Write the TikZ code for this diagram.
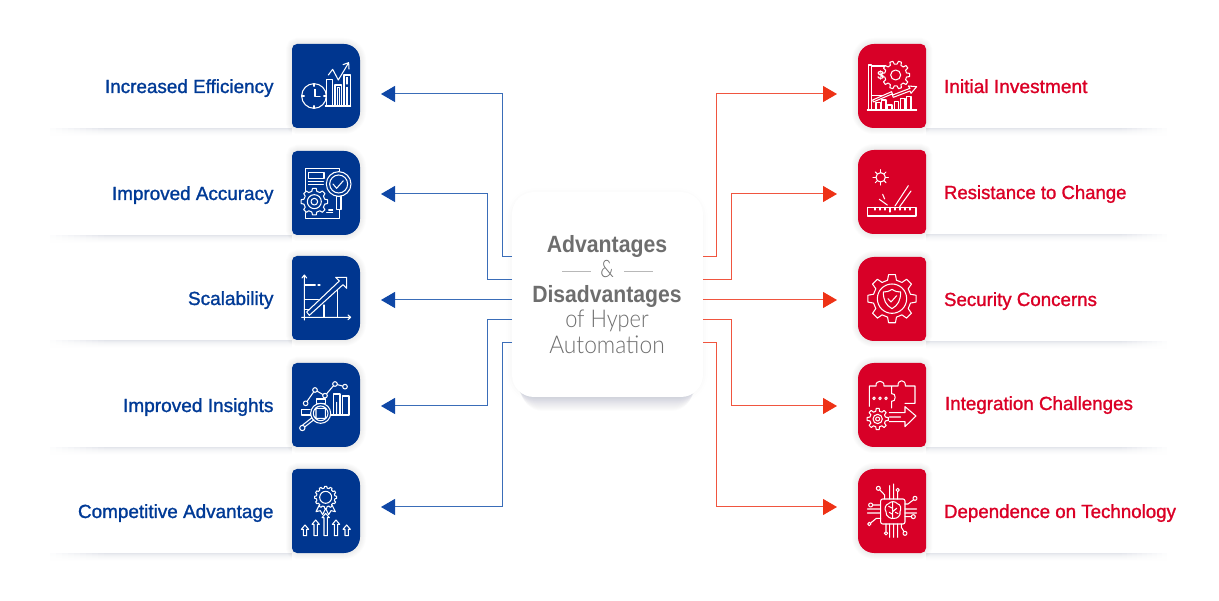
\documentclass[tikz,border=0pt]{standalone}
\usepackage{fontspec}
\setmainfont{Liberation Sans}
\newfontfamily\medf[FakeBold=1.3]{Liberation Sans}
\newfontfamily\boldf{Liberation Sans Bold}
\newfontfamily\lightf{Lato Light}
\usetikzlibrary{arrows.meta,calc}
\definecolor{bbox}{HTML}{00368F}
\definecolor{rbox}{HTML}{D80027}
\definecolor{btxt}{HTML}{003A96}
\definecolor{rtxt}{HTML}{DB0026}
\definecolor{bline}{HTML}{3A6DB8}
\definecolor{rline}{HTML}{F0553F}
\definecolor{btip}{HTML}{0F47A6}
\definecolor{rtip}{HTML}{EE3216}
\definecolor{gtxt}{HTML}{6E6E6E}
\definecolor{sh}{HTML}{E3E5EB}
\definecolor{csh}{HTML}{707890}
\newcommand\fitw[2]{\setbox0\hbox{#2}\pgfmathsetmacro\fitr{#1/\the\wd0}\scalebox{\fitr}[1]{\box0}}
\newcommand\lpath[1]{(#1.west) [rounded corners=5pt] -- (#1.north west) [rounded corners=16pt] -- (#1.north east) -- (#1.south east) [rounded corners=5pt] -- (#1.south west) -- cycle}
\newcommand\rpath[1]{(#1.west) [rounded corners=16pt] -- (#1.north west) [rounded corners=5pt] -- (#1.north east) -- (#1.south east) [rounded corners=16pt] -- (#1.south west) -- cycle}
\newcommand\softsh[1]{\foreach \w in {2,4,...,12}{\draw[draw=gray,opacity=.02,line width=\w pt] #1;}}
\newcommand\rowbase[3]{\foreach \k/\p in {0/100,1/75,2/55,3/40,4/28,5/18,6/10,7/5}{
    \fill[sh!\p!white] (#1,#3+\k) rectangle (#2,#3+\k+1);}}
\newcommand\rowL[3]{\rowbase{#1}{#2}{#3}
  \foreach \i in {0,...,9}{\fill[white,opacity=1-\i/10] (#1+6*\i,#3) rectangle (#1+6*\i+6,#3+8);}}
\newcommand\rowR[3]{\rowbase{#1}{#2}{#3}
  \foreach \i in {0,...,9}{\fill[white,opacity=1-\i/10] (#2-5*\i,#3) rectangle (#2-5*\i-5,#3+8);}}
\newcommand\gearic[5]{\pgfmathsetmacro\st{360/#3}
  \draw[icn,fill=ic,shift={(#1,#2)}] ({-.30*\st}:#5) \foreach \k [evaluate=\k as \a using (\k-1)*\st] in {1,...,#3}{
     -- ({\a-.30*\st}:#5) -- ({\a-.18*\st}:#4) -- ({\a+.18*\st}:#4) -- ({\a+.30*\st}:#5)} -- cycle;}
\newcommand\uparr[3]{\draw[icn] (#1-5,#3) -- (#1-5,#2+13) -- (#1-11,#2+13) -- (#1,#2) -- (#1+11,#2+13) -- (#1+5,#2+13) -- (#1+5,#3) -- cycle;}
\tikzset{
  x=1pt,y=-1pt,
  boxn/.style={minimum width=68pt,minimum height=84pt,inner sep=0pt,outer sep=0pt},
  lab/.style={inner sep=0pt,outer sep=0pt,font=\medf\fontsize{19}{19}\selectfont},
  llab/.style={lab,anchor=base east,text=btxt},
  rlab/.style={lab,anchor=base west,text=rtxt},
  clab/.style={inner sep=0pt,outer sep=0pt,anchor=base,text=gtxt},
  bl/.style={draw=bline,line width=1pt,-{Triangle[length=14pt,width=16pt,color=btip]}},
  rl/.style={draw=rline,line width=1pt,-{Triangle[length=14pt,width=16pt,color=rtip]}},
  icn/.style={draw=white,line width=1.05pt,line join=round,line cap=round},
  icons/.style={x=.3333pt,y=-.3333pt},
}
\begin{document}
\begin{tikzpicture}
\useasboundingbox (0,0) rectangle (1219,601);
\fill[white] (0,0) rectangle (1219,601);
% row shadows
\rowL{44}{292}{128}\rowL{44}{292}{235}\rowL{44}{292}{340}\rowL{44}{292}{447}\rowL{44}{292}{553}
\rowR{926}{1172}{128}\rowR{926}{1172}{234}\rowR{926}{1172}{341}\rowR{926}{1172}{447}\rowR{926}{1172}{553}
% nodes for icon boxes
\node[boxn] (iA) at (326,86) {};
\node[boxn] (iB) at (326,193) {};
\node[boxn] (iC) at (326,298) {};
\node[boxn] (iD) at (326,405) {};
\node[boxn] (iE) at (326,511) {};
\node[boxn] (jA) at (892,86) {};
\node[boxn] (jB) at (892,192) {};
\node[boxn] (jC) at (892,299) {};
\node[boxn] (jD) at (892,405) {};
\node[boxn] (jE) at (892,511) {};
\foreach \n in {iA,iB,iC,iD,iE}{\softsh{\lpath{\n}}\fill[bbox] \lpath{\n};}
\foreach \n in {jA,jB,jC,jD,jE}{\softsh{\rpath{\n}}\fill[rbox] \rpath{\n};}
% arrow ends and heights
\coordinate (ta) at (381,94); \coordinate (tb) at (381,194); \coordinate (tc) at (381,300); \coordinate (td) at (381,406); \coordinate (te) at (381,507);
\coordinate (ua) at (837,94); \coordinate (ub) at (837,194); \coordinate (uc) at (837,300); \coordinate (ud) at (837,406); \coordinate (ue) at (837,507);
\coordinate (ya) at (0,257); \coordinate (yb) at (0,280); \coordinate (yc) at (0,300); \coordinate (yd) at (0,320); \coordinate (ye) at (0,343);
% centre card
\begin{scope}
\foreach \w/\o in {16/.005,12/.006,8/.007,4/.009}{
  \draw[draw=black!70,opacity=\o,line width=\w pt,rounded corners=22pt] (514,196) rectangle (700,395);}
\foreach \d in {1,...,14}{
  \fill[fill=csh,opacity=.018,rounded corners=22pt] (514+\d/2,230) rectangle (700-\d/2,397+\d);}
\end{scope}
\node[minimum width=191pt,minimum height=205pt,inner sep=0pt,outer sep=0pt,rounded corners=22pt,fill=white] (core) at (607.5,294.5) {};
\draw[bl] (core.west |- ya) -- ++(-10,0) |- (ta);
\draw[bl] (core.west |- yb) -- ++(-25,0) |- (tb);
\draw[bl] (core.west |- yc) -- (tc);
\draw[bl] (core.west |- yd) -- ++(-25,0) |- (td);
\draw[bl] (core.west |- ye) -- ++(-10,0) |- (te);
\draw[rl] (core.east |- ya) -- ++(13,0) |- (ua);
\draw[rl] (core.east |- yb) -- ++(28,0) |- (ub);
\draw[rl] (core.east |- yc) -- (uc);
\draw[rl] (core.east |- yd) -- ++(28,0) |- (ud);
\draw[rl] (core.east |- ye) -- ++(13,0) |- (ue);
% centre text
\node[clab,font=\boldf\fontsize{23.5}{24}\selectfont] (t1) at (607,252.7) {\fitw{120.5}{Advantages}};
\node[clab,font=\lightf\fontsize{24}{24}\selectfont] (t2) at (607,277.7) {\fitw{13.5}{\&}};
\node[clab,font=\boldf\fontsize{23.5}{24}\selectfont] (t3) at (607,302.3) {\fitw{149.5}{Disadvantages}};
\node[clab,font=\lightf\fontsize{24.5}{24}\selectfont] (t4) at (607,328) {\fitw{83.5}{of Hyper}};
\node[clab,font=\lightf\fontsize{24.5}{24}\selectfont] (t5) at (607,353.2) {\fitw{115.5}{Automation}};
\coordinate (da) at (562,271.7); \coordinate (db) at (590.7,271.7); \coordinate (dc) at (624,271.7); \coordinate (dd) at (653,271.7);
\draw[draw=black!28,line width=.8pt] (da) -- (db) (dc) -- (dd);
% labels
\node[llab] (la) at (273.5,93) {\fitw{168.5}{Increased Efficiency}};
\node[llab] (lb) at (273.5,200) {\fitw{161.5}{Improved Accuracy}};
\node[llab] (lc) at (273.5,305) {\fitw{85.5}{Scalability}};
\node[llab] (ld) at (273.5,412) {\fitw{150.5}{Improved Insights}};
\node[llab] (le) at (273.5,518) {\fitw{195.5}{Competitive Advantage}};
\node[rlab] (ra) at (944,93) {\fitw{143.5}{Initial Investment}};
\node[rlab] (rb) at (944,199) {\fitw{182.5}{Resistance to Change}};
\node[rlab] (rc) at (944,306) {\fitw{153}{Security Concerns}};
\node[rlab] (rd) at (945,410) {\fitw{188}{Integration Challenges}};
\node[rlab] (re) at (944,518) {\fitw{232}{Dependence on Technology}};
% ---- icons blue
\colorlet{ic}{bbox}
\begin{scope}[shift={(iA.north west)},icons]
\draw[icn] (104,186) -- (104,106) -- (122,106) -- (122,186) (129,186) -- (129,123) -- (149,123) -- (149,186) (156,186) -- (156,93) -- (176,93) -- (176,186) (100,186) -- (176,186);
\draw[icn] (136,186) -- (136,131) -- (142,131) -- (142,186) (165,100) -- (165,120) (165,130) -- (165,186);
\draw[icn,fill=ic] (66,156) circle (37);
\draw[icn] (69,136) -- (69,158) -- (84,158) (66,119) -- (66,127) (66,185) -- (66,193) (29,156) -- (37,156) (95,156) -- (103,156);
\draw[icn] (109,93) -- (122,76) -- (139,108) -- (169,58) (153,62) -- (170,56) -- (171,75);
\end{scope}
\begin{scope}[shift={(iB.north west)},icons]
\draw[icn] (41,130) -- (41,53) -- (142,53) -- (142,202) -- (41,202) -- (41,185);
\draw[icn] (49,64) rectangle (96,82) (49,92) -- (94,92) (49,100) -- (94,100) (104,185) -- (122,185) (110,177) -- (122,177);
\draw[icn,fill=ic] (133,135) rectangle (147,175);
\draw[icn,fill=ic] (140,99) circle (37);
\draw[icn] (140,99) circle (27) (123,99) -- (134,112) -- (154,89);
\gearic{67}{152}{8}{40}{32}
\draw[icn] (67,152) circle (21) (67,152) circle (10);
\end{scope}
\begin{scope}[shift={(iC.north west)},icons]
\draw[icn] (37,192) -- (37,57) (29,184) -- (176,184) (30,66) -- (37,57) -- (44,66) (168,177) -- (176,184) -- (168,191);
\draw[icn] (37,87) -- (70,87) (78,87) -- (84,87) (37,130) -- (79,130) (96,147) -- (96,184) (136,102) -- (136,184) (37,160) -- (50,160);
\draw[icn,fill=ic] (164,64) -- (164,97) -- (153,86) -- (52,178) -- (44,168) -- (142,75) -- (131,64) -- cycle;
\end{scope}
\begin{scope}[shift={(iD.north west)},icons]
\draw[icn] (124,156) -- (124,93) -- (144,93) -- (144,156) (151,156) -- (151,99) -- (171,99) -- (171,156) (29,156) -- (171,156) (29,156) -- (29,139) -- (54,139);
\draw[icn] (134,156) -- (134,118) (41,121) -- (69,81) -- (99,98) -- (129,63) -- (159,71);
\foreach \p in {(41,121),(69,81),(99,98),(129,63),(159,71)}{\draw[icn,fill=ic] \p circle (7);}
\draw[icn,fill=ic] (74,108) rectangle (100,122);
\draw[icn,fill=ic] (86,151) circle (30);
\draw[icn] (86,151) circle (22) (72,136) rectangle (100,166);
\draw[icn] (66,170) -- (38,192) (60,164) -- (32,186);
\draw[icn,fill=ic] (31,195) circle (8);
\end{scope}
\begin{scope}[shift={(iE.north west)},icons]
\draw[icn] (82,108) -- (72,128) -- (85,125) -- (92,137) -- (101,118) -- (110,137) -- (117,125) -- (130,128) -- (120,108);
\gearic{101}{85}{12}{33}{28}
\draw[icn] (101,85) circle (18);
\uparr{39}{168}{200}\uparr{71}{153}{200}\uparr{101}{133}{200}\uparr{132}{153}{200}\uparr{164}{168}{200}
\end{scope}
% ---- icons red
\colorlet{ic}{rbox}
\begin{scope}[shift={(jA.north west)},icons]
\draw[icn] (31,198) -- (31,63) -- (41,63) -- (41,198) (28,198) -- (176,198) (41,66) -- (80,66) (41,154) -- (72,154);
\gearic{113}{93}{10}{42}{33}
\draw[icn] (113,93) circle (15);
\node[inner sep=0pt,text=white,font=\boldf\fontsize{12}{12}\selectfont] (dollar) at (68,94) {\$};
\draw[icn,fill=ic] (44,168) -- (101,143) -- (104,153) -- (156,133) -- (151,126) -- (176,128) -- (159,148) -- (156,141) -- (106,160) -- (102,150) -- (46,174) -- cycle;
\foreach \a/\b in {54/176,71/168,89/183,109/173,128/163,146/158}{\draw[icn] (\a,198) -- (\a,\b) -- (\a+13,\b) -- (\a+13,198);}
\end{scope}
\begin{scope}[shift={(jB.north west)},icons]
\draw[icn] (68,82) circle (14);
\foreach \a in {0,45,...,315}{\draw[icn] (\a:14) ++(68,82) -- ++(\a:9);}
\draw[icn] (29,172) rectangle (174,198);
\foreach \a in {51,66,81,111,126,141,156}{\draw[icn] (\a,172) -- (\a,180);}
\draw[icn] (96,172) -- (96,186);
\draw[icn] (111,168) -- (151,107) (125,170) -- (159,123) (88,165) -- (64,148) (80,147) -- (74,133);
\end{scope}
\begin{scope}[shift={(jC.north west)},icons]
\gearic{102}{125}{8}{73}{57}
\draw[icn] (102,125) circle (44);
\draw[icn] (102,97) .. controls (112,104) and (120,105) .. (128,105) .. controls (128,130) and (120,145) .. (102,155) .. controls (84,145) and (76,130) .. (76,105) .. controls (84,105) and (92,104) .. (102,97) -- cycle;
\draw[icn] (90,125) -- (99,135) -- (116,116);
\end{scope}
\begin{scope}[shift={(jD.north west)},icons]
\draw[icn] (34,130) -- (34,69) -- (54,69) .. controls (52,50) and (80,50) .. (78,69) -- (101,69) -- (101,92) (101,115) -- (101,135) (101,69) -- (120,69) .. controls (118,48) and (144,48) .. (142,69) -- (171,69) -- (171,121) -- (141,121);
\draw[icn] (101,92) .. controls (115,88) and (115,118) .. (101,115);
\foreach \a in {48,66,84}{\draw[icn] (\a,106) circle (4);}
\draw[icn] (94,149) -- (141,149) -- (141,131) -- (174,159) -- (141,191) -- (141,176) -- (94,176) (94,162) -- (128,162);
\gearic{59}{168}{8}{32}{24}
\draw[icn] (59,168) circle (14) (59,168) circle (6);
\end{scope}
\begin{scope}[shift={(jE.north west)},icons]
\draw[icn,rounded corners=2pt] (68,90) rectangle (141,165);
\draw[icn] (80,90) -- (80,78) -- (65,62) (95,90) -- (95,50) (107,90) -- (107,45) (119,90) -- (119,68);
\draw[icn] (68,108) -- (44,108) (68,120) -- (28,120) (68,132) -- (28,132) (68,148) -- (55,148) -- (38,162);
\draw[icn] (141,105) -- (150,105) -- (167,92) (141,120) -- (176,120) (141,132) -- (176,132) (141,143) -- (160,143);
\draw[icn] (84,165) -- (84,187) (95,165) -- (95,205) (107,165) -- (107,205) (119,165) -- (119,205) (130,165) -- (130,175) -- (138,188);
\foreach \p/\r in {(61,58)/6,(119,63)/5,(38,108)/6,(34,165)/5,(171,88)/6,(166,143)/6,(84,193)/5,(141,193)/6}{\draw[icn,fill=ic] \p circle (\r);}
\draw[icn] (92,104) .. controls (98,96) and (112,96) .. (118,104) .. controls (130,106) and (130,122) .. (126,128) .. controls (130,140) and (116,150) .. (108,148) .. controls (100,152) and (82,142) .. (84,128) .. controls (78,120) and (82,106) .. (92,104) -- cycle;
\draw[icn] (104,100) -- (104,148) (104,118) -- (92,112) (104,128) -- (116,118) (104,136) -- (94,130) (112,130) -- (120,134);
\end{scope}
\end{tikzpicture}
\end{document}
